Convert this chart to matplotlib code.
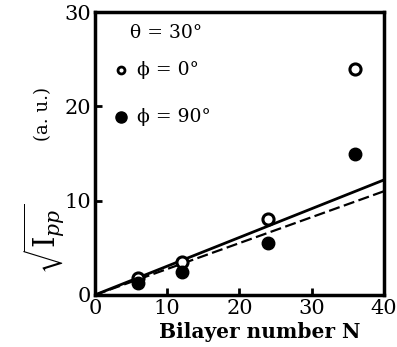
import numpy as np
import matplotlib.pyplot as plt

n_bilayer = [6, 12, 24, 36]
phi0 = [1.8, 3.5, 8.1, 24.0]
phi90 = [1.3, 2.4, 5.5, 15.0]
fit_n = [0, 40]
fit_phi0 = [0, 12.2]
fit_phi90 = [0, 11.0]

plt.rcParams['font.family'] = ['DejaVu Serif']
plt.rcParams['mathtext.fontset'] = 'dejavuserif'

fig = plt.figure(figsize=(3.97, 3.47), dpi=100)
ax = fig.add_axes([0.239, 0.150, 0.728, 0.815])

ax.plot(fit_n, fit_phi0, color='black', lw=2.0)
ax.plot(fit_n, fit_phi90, color='black', lw=1.6, ls=(0, (5, 2)))
ax.plot(n_bilayer, phi0, 'o', ms=8, mfc='white', mec='black', mew=2.2)
ax.plot(n_bilayer, phi90, 'o', ms=9, mfc='black', mec='black')

# legend drawn as text, like the original
ax.text(4.8, 27.8, 'θ = 30°', fontsize=13.5, va='center')
ax.plot([3.6], [23.9], 'o', ms=5, mfc='white', mec='black', mew=2)
ax.text(5.8, 23.9, 'ϕ = 0°', fontsize=13.5, va='center')
ax.plot([3.6], [18.9], 'o', ms=8, mfc='black', mec='black')
ax.text(5.8, 18.9, 'ϕ = 90°', fontsize=13.5, va='center')

ax.set_xlim(0, 40)
ax.set_ylim(0, 30)
ax.set_xticks([0, 10, 20, 30, 40])
ax.set_yticks([0, 10, 20, 30])
ax.tick_params(direction='in', length=5, width=2, labelsize=15, pad=3)
for s in ax.spines.values():
    s.set_linewidth(2.5)

ax.set_xlabel('Bilayer number N', fontsize=14.5, fontweight='bold')
ax.xaxis.set_label_coords(0.57, -0.095, transform=ax.transAxes)
# y label in two parts: big root sign and smaller units
ax.text(-0.175, 0.2, r'$\sqrt{\mathrm{I}_{pp}}$', transform=ax.transAxes,
        rotation=90, fontsize=21, ha='center', va='center')
ax.text(-0.18, 0.64, '(a. u.)', transform=ax.transAxes,
        rotation=90, fontsize=13, ha='center', va='center')

fig.savefig('out.png', dpi=100)
